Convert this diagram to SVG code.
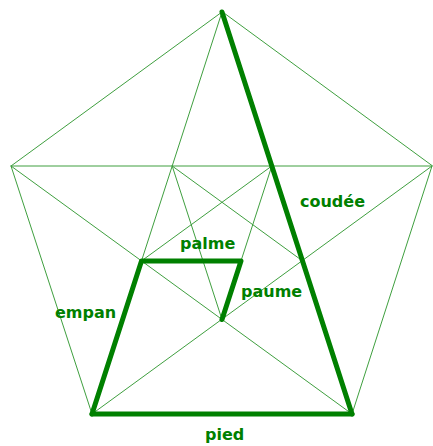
<svg xmlns="http://www.w3.org/2000/svg" width="433" height="446" viewBox="0 0 433 446">
<style>
.thin{stroke:#3f9f3f;stroke-width:1;fill:none;stroke-linecap:round}
.thick{stroke:#008000;stroke-width:5;fill:none;stroke-linecap:round;stroke-linejoin:round}
.lbl{font-family:"DejaVu Sans",Verdana,sans-serif;font-weight:bold;font-size:16px;fill:#008000}
</style>
<rect width="433" height="446" fill="#ffffff"/>
<g id="connectors">
<g id="thin-lines">
<polygon class="thin" points="222,12 11,166 92,414 352,414 432,166"/>
<line class="thin" x1="222" y1="12" x2="92" y2="414"/>
<line class="thin" x1="11" y1="166" x2="432" y2="166"/>
<line class="thin" x1="11" y1="166" x2="352" y2="414"/>
<line class="thin" x1="432" y1="166" x2="92" y2="414"/>
<line class="thin" x1="172.2" y1="166" x2="302.5" y2="260.9"/>
<line class="thin" x1="271.8" y1="166" x2="141.5" y2="260.9"/>
<line class="thin" x1="172.2" y1="166" x2="222" y2="319.5"/>
<line class="thin" x1="271.8" y1="166" x2="222" y2="319.5"/>
</g>
<g id="thick-lines">
<line id="coudee-line" class="thick" x1="222" y1="12" x2="352" y2="414"/>
<line id="pied-line" class="thick" x1="92" y1="414" x2="352" y2="414"/>
<polyline id="empan-palme-paume" class="thick" points="92,414 141.5,260.9 241,260.9 222,319.5"/>
</g>
</g>
<g id="label-coudee"><text class="lbl" x="300" y="207">coudée</text></g>
<g id="label-palme"><text class="lbl" x="180" y="249">palme</text></g>
<g id="label-paume"><text class="lbl" x="241" y="297">paume</text></g>
<g id="label-empan"><text class="lbl" x="55" y="318">empan</text></g>
<g id="label-pied"><text class="lbl" x="205" y="440">pied</text></g>
</svg>
